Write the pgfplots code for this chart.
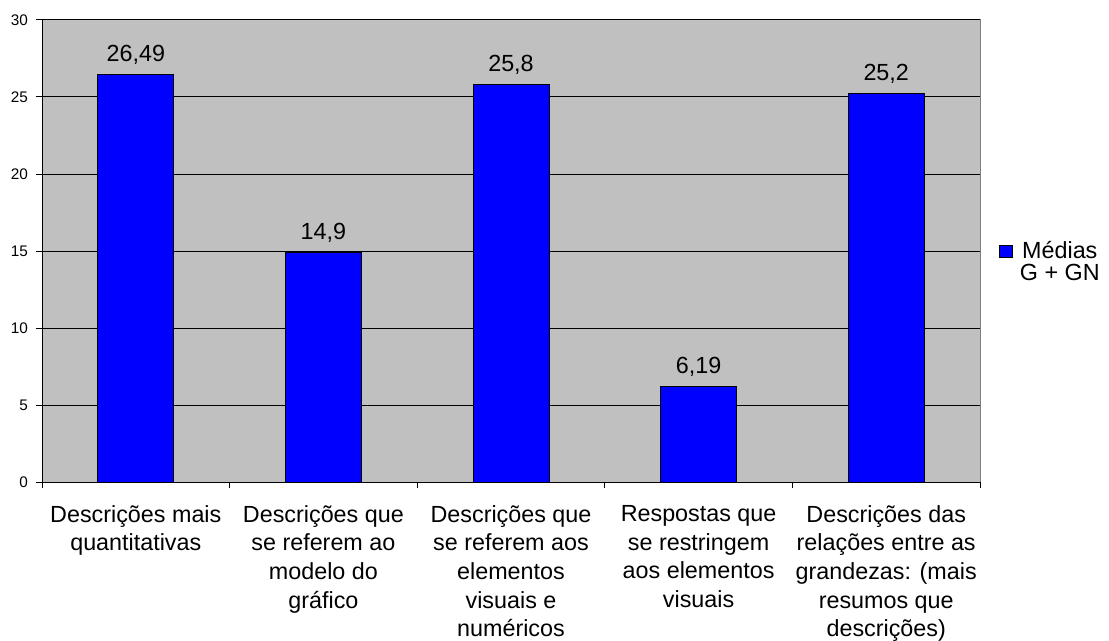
\documentclass[border=0pt]{standalone}
\usepackage{fontspec}
\setmainfont{Liberation Sans}
\usepackage{pgfplots}
\pgfplotsset{compat=1.18}
\definecolor{barblue}{HTML}{0000FF}
\definecolor{plotgray}{HTML}{C0C0C0}
\definecolor{framegray}{HTML}{808080}

\begin{document}
\begin{tikzpicture}
% 1 px of the reference = 0.75pt
\useasboundingbox (0,0) rectangle (831.75pt,480pt);
\begin{axis}[
    at={(31.5pt,118.5pt)}, anchor=south west,
    scale only axis,
    width=703.5pt, height=346.5pt,
    xmin=-0.5, xmax=4.5,
    ymin=0, ymax=30,
    axis lines=left,
    axis line style={-, black, line width=0.75pt},
    axis background/.style={fill=plotgray, draw=framegray, line width=0.75pt},
    ytick distance=5,
    ymajorgrids,
    grid style={black, line width=0.75pt},
    tick align=outside,
    major tick length=0pt,
    minor tick length=4.5pt,
    minor xtick={-0.5,0.5,...,4.5},
    minor ytick={0,5,...,30},
    minor tick style={black, line width=0.75pt},
    /pgf/number format/assume math mode=true,
    xtick={0,1,2,3,4},
    xticklabels={
        {Descrições mais\\quantitativas},
        {Descrições que\\se referem ao\\modelo do\\gráfico},
        {Descrições que\\se referem aos\\elementos\\visuais e\\numéricos},
        {Respostas que\\se restringem\\aos elementos\\visuais},
        {Descrições das\\relações entre as\\grandezas: (mais\\resumos que\\descrições)}
    },
    xticklabel style={align=center, font=\fontsize{17.5}{21.5}\selectfont, yshift=-14pt},
    yticklabel style={font=\fontsize{11.5}{13}\selectfont, xshift=-7pt},
    ybar,
    bar width=57pt,
    point meta=explicit symbolic,
    nodes near coords,
    nodes near coords style={font=\fontsize{17.5}{19}\selectfont, anchor=base, yshift=9.75pt},
    legend style={at={(1,0.5)}, anchor=west, xshift=14.25pt, yshift=-9pt,
        draw=none, fill=none, inner sep=0pt, row sep=1.5pt, column sep=5pt,
        font=\fontsize{17.5}{19}\selectfont,
        nodes={inner sep=0pt, text height=12.5pt, text depth=3pt}},
    legend cell align=center,
    legend image code/.code={\draw[fill=barblue, draw=black, line width=0.75pt] (0pt,-4.5pt) rectangle (9.75pt,4.5pt);},
]
\addplot[fill=barblue, draw=black, line width=0.75pt] coordinates {
    (0,26.49) [26,49]
    (1,14.9)  [14,9]
    (2,25.8)  [25,8]
    (3,6.19)  [6,19]
    (4,25.2)  [25,2]
};
\addlegendentry{Médias}
\addlegendimage{empty legend}
\addlegendentry{G + GN}
\end{axis}
\end{tikzpicture}
\end{document}
